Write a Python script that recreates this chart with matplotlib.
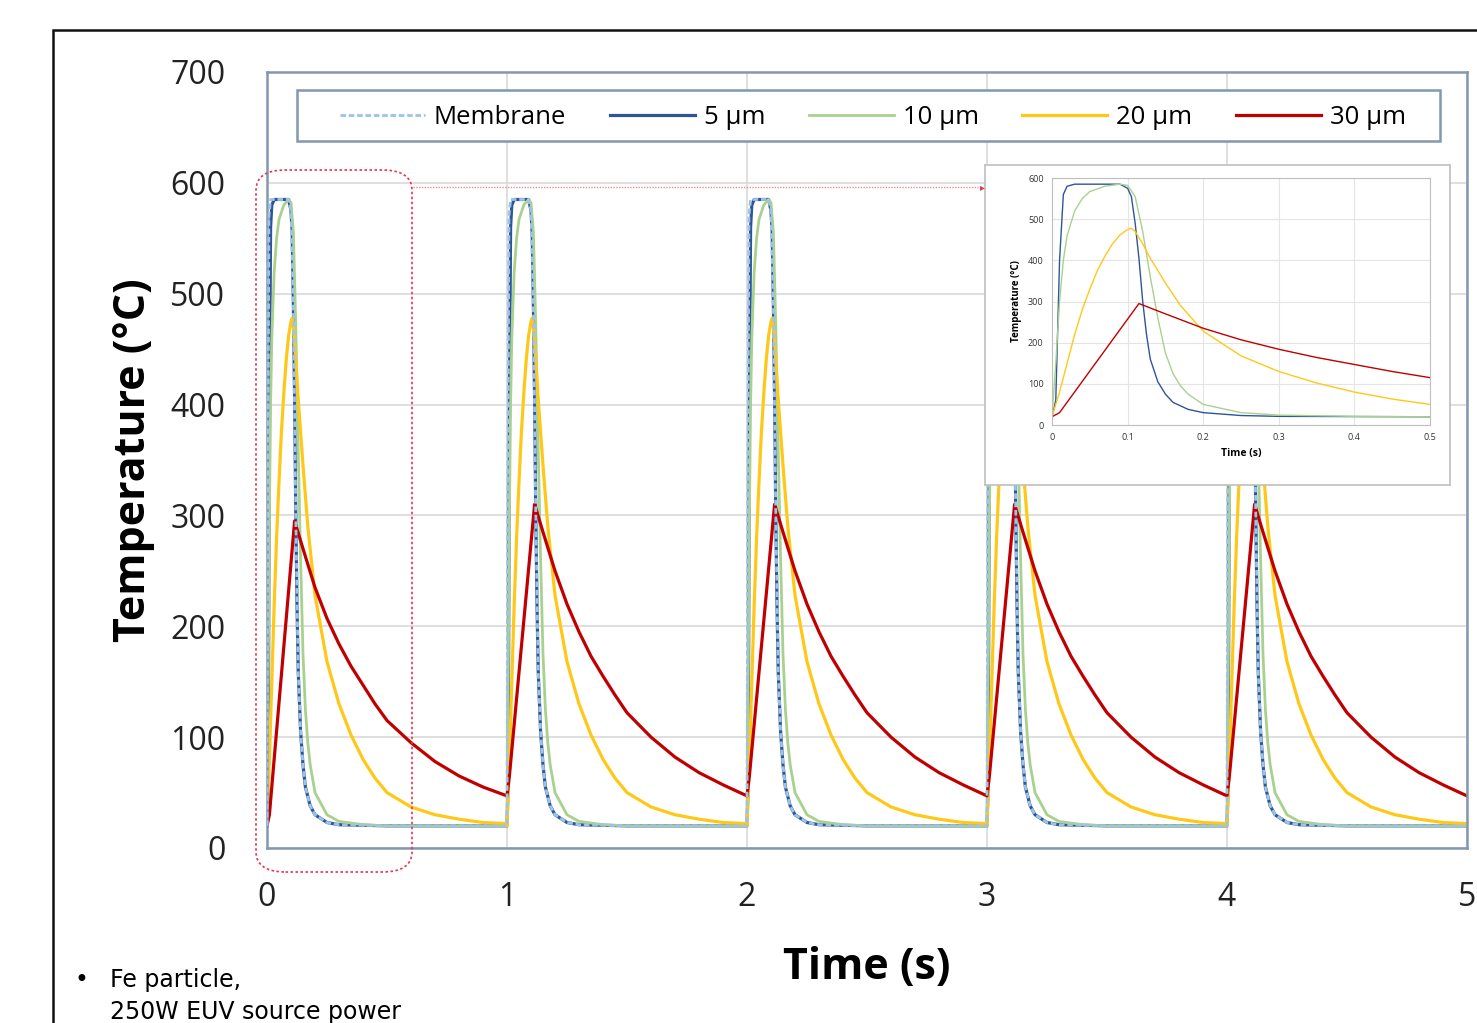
import numpy as np
import matplotlib
matplotlib.use("Agg")
from matplotlib import pyplot
from matplotlib.patches import Rectangle, FancyBboxPatch

W, H = 1477, 1023

# one heating cycle (time within the cycle, s)
t_mem = [0, 0.003, 0.008, 0.015, 0.09, 0.1, 0.11, 0.12, 0.13, 0.14, 0.15, 0.16, 0.18, 0.2, 0.25, 0.3, 0.5, 1.0]
T_mem = [20, 300, 570, 585, 585, 575, 490, 300, 160, 105, 75, 55, 38, 30, 23, 21, 20, 20]

t_5um = [0, 0.005, 0.01, 0.015, 0.02, 0.03, 0.09, 0.1, 0.105, 0.11, 0.115, 0.12, 0.125, 0.13,
         0.14, 0.15, 0.16, 0.18, 0.2, 0.25, 0.3, 0.5, 1.0]
T_5um = [20, 60, 400, 560, 580, 585, 585, 575, 555, 490, 405, 300, 220, 160,
         105, 75, 55, 38, 30, 23, 21, 20, 20]

t_10um = [0, 0.005, 0.01, 0.015, 0.02, 0.03, 0.04, 0.05, 0.07, 0.09, 0.1, 0.11, 0.12, 0.13,
          0.14, 0.15, 0.16, 0.17, 0.18, 0.2, 0.25, 0.3, 0.4, 0.5, 1.0]
T_10um = [20, 150, 300, 400, 460, 520, 550, 567, 580, 585, 582, 555, 470, 360,
          260, 175, 125, 95, 75, 50, 30, 24, 21, 20, 20]

t_20um = [0, 0.01, 0.02, 0.03, 0.04, 0.05, 0.06, 0.07, 0.08, 0.09, 0.1, 0.105, 0.11, 0.12,
          0.13, 0.15, 0.17, 0.2, 0.25, 0.3, 0.35, 0.4, 0.45, 0.5, 0.6, 0.7, 0.8, 0.9, 1.0]
T_20um = [20, 80, 150, 220, 280, 330, 375, 410, 440, 462, 475, 478, 470, 440,
          405, 345, 290, 228, 168, 130, 102, 80, 63, 50, 37, 30, 26, 23, 22]

t_30um = [0, 0.01, 0.115, 0.15, 0.2, 0.25, 0.3, 0.35, 0.4, 0.45, 0.5, 0.6, 0.7, 0.8, 0.9, 1.0]
T_30um_first = [20, 30, 295, 270, 235, 207, 184, 164, 147, 130, 115, 95, 78, 65, 55, 47]
T_30um = [47, 65, 310, 285, 250, 220, 195, 173, 155, 138, 122, 100, 82, 68, 57, 47]

n_cycles = 5
labels = ["Membrane", "5 \u00b5m", "10 \u00b5m", "20 \u00b5m", "30 \u00b5m"]
colours = ["#9DC3E6", "#2F5597", "#A9D18E", "#FFC819", "#C00000"]

y_ticks = [0, 100, 200, 300, 400, 500, 600, 700]
x_ticks = [0, 1, 2, 3, 4, 5]
inset_x_ticks = [0, 0.1, 0.2, 0.3, 0.4, 0.5]
inset_x_labels = ["0", "0.1", "0.2", "0.3", "0.4", "0.5"]
inset_y_ticks = [0, 100, 200, 300, 400, 500, 600]


def repeat_cycles(t, first, rest):
    tt, vv = [], []
    for k in range(n_cycles):
        tt.append(np.array(t) + k)
        vv.append(np.array(first if k == 0 else rest))
    return np.concatenate(tt), np.concatenate(vv)


def fig_rect(x0, y0, x1, y1):
    """pixel box (top-left origin) -> figure fraction [l, b, w, h]"""
    return [x0 / W, 1 - y1 / H, (x1 - x0) / W, (y1 - y0) / H]


series = [
    (t_mem, T_mem, T_mem),
    (t_5um, T_5um, T_5um),
    (t_10um, T_10um, T_10um),
    (t_20um, T_20um, T_20um),
    (t_30um, T_30um_first, T_30um),
]

pyplot.rcParams['font.family'] = ['Open Sans', 'DejaVu Sans']
fig = pyplot.figure(figsize=(W / 100, H / 100), dpi=100)

# outer black frame of the slide
frame = Rectangle((53 / W, 1 - 1100 / H), 1600 / W, 1070 / H, transform=fig.transFigure,
                  fill=False, edgecolor='#111111', linewidth=1.8, zorder=0)
fig.patches.append(frame)

# main chart
ax = fig.add_axes(fig_rect(267, 72, 1467, 848))
for (t, first, rest), lab, col in zip(series, labels, colours):
    tt, vv = repeat_cycles(t, first, rest)
    if lab == "Membrane":
        ax.plot(tt, vv, color=col, linestyle=(0, (2, 1)), linewidth=2.0, label=lab, zorder=3)
    else:
        lw = 2.0 if col == "#A9D18E" else 2.3
        ax.plot(tt, vv, color=col, linewidth=lw, label=lab, zorder=2)

ax.set_xlim(0, 5)
ax.set_ylim(0, 700)
ax.set_xticks(x_ticks)
ax.set_yticks(y_ticks)
ax.tick_params(length=0, labelsize=23, colors='#222222')
ax.tick_params(axis='y', pad=30)
ax.tick_params(axis='x', pad=24)
ax.grid(color='#D9D9D9', linewidth=1.2)
ax.set_axisbelow(True)
for s in ax.spines.values():
    s.set_color('#8497B0')
    s.set_linewidth(1.8)
ax.set_xlabel("Time (s)", fontsize=31, fontweight='bold', labelpad=23)
ax.set_ylabel("Temperature (\u00b0C)", fontsize=31, fontweight='bold', labelpad=11)

# legend: drawn frameless, with its own box behind it
leg_box = Rectangle((0.025, 0.911), 0.9525, 0.066, transform=ax.transAxes,
                    facecolor='white', edgecolor='#8497B0', linewidth=1.8, zorder=4)
ax.add_patch(leg_box)
handles, _ = ax.get_legend_handles_labels()
leg = ax.legend(handles, labels, loc='center', ncol=5,
                bbox_to_anchor=(0.505, 0.942), fontsize=18.5,
                handlelength=3.3, handletextpad=0.35, columnspacing=1.7,
                frameon=False, borderaxespad=0)
leg.set_zorder(5)

# dotted highlight around the first cycle
box = FancyBboxPatch((256 / W, 1 - 872 / H), 156 / W, 702 / H,
                     boxstyle="round,pad=0,rounding_size=0.02", transform=fig.transFigure,
                     fill=False, edgecolor='#E8344E', linestyle=(0, (1.5, 1.5)), linewidth=1.2,
                     zorder=5)
fig.patches.append(box)
fig.add_artist(pyplot.Line2D([413 / W, 978 / W], [1 - 187 / H, 1 - 187 / H],
                             transform=fig.transFigure, color='#F08A9A',
                             linestyle=(0, (1, 1)), linewidth=1.0, zorder=5))
fig.text(985 / W, 1 - 187 / H, u"\u25b8", color='#E8344E', fontsize=7,
         ha='right', va='center', zorder=6, family=['DejaVu Sans'])

# inset frame and inset chart
frame_ax = fig.add_axes(fig_rect(985, 165, 1450, 485), zorder=2)
frame_ax.set_xticks([])
frame_ax.set_yticks([])
for s in frame_ax.spines.values():
    s.set_color('#BFBFBF')
    s.set_linewidth(1.2)

inset = fig.add_axes(fig_rect(1052, 178, 1430, 425), zorder=3)
for (t, first, rest), lab, col in zip(series, labels, colours):
    if lab == "Membrane":
        continue
    inset.plot(t, first, color=col, linewidth=1.0)
inset.set_xlim(0, 0.5)
inset.set_ylim(0, 600)
inset.set_xticks(inset_x_ticks)
inset.set_xticklabels(inset_x_labels)
inset.set_yticks(inset_y_ticks)
inset.tick_params(length=0, labelsize=6.5, colors='#333333', pad=6)
inset.grid(color='#E4E4E4', linewidth=0.8)
inset.set_axisbelow(True)
for s in inset.spines.values():
    s.set_color('#BFBFBF')
    s.set_linewidth(0.8)
inset.set_xlabel("Time (s)", fontsize=7.5, fontweight='bold', labelpad=4)
inset.set_ylabel("Temperature (\u00b0C)", fontsize=7, fontweight='bold', labelpad=4)

# note under the chart
fig.text(75 / W, 1 - 980 / H, u"\u2022", fontsize=17, ha='left', va='center',
         family=['DejaVu Sans'])
fig.text(110 / W, 1 - 980 / H, "Fe particle,", fontsize=17, ha='left', va='center',
         family=['DejaVu Sans'])
fig.text(110 / W, 1 - 1012 / H, "250W EUV source power", fontsize=17, ha='left', va='center',
         family=['DejaVu Sans'])

fig.savefig("out.png", dpi=100)
